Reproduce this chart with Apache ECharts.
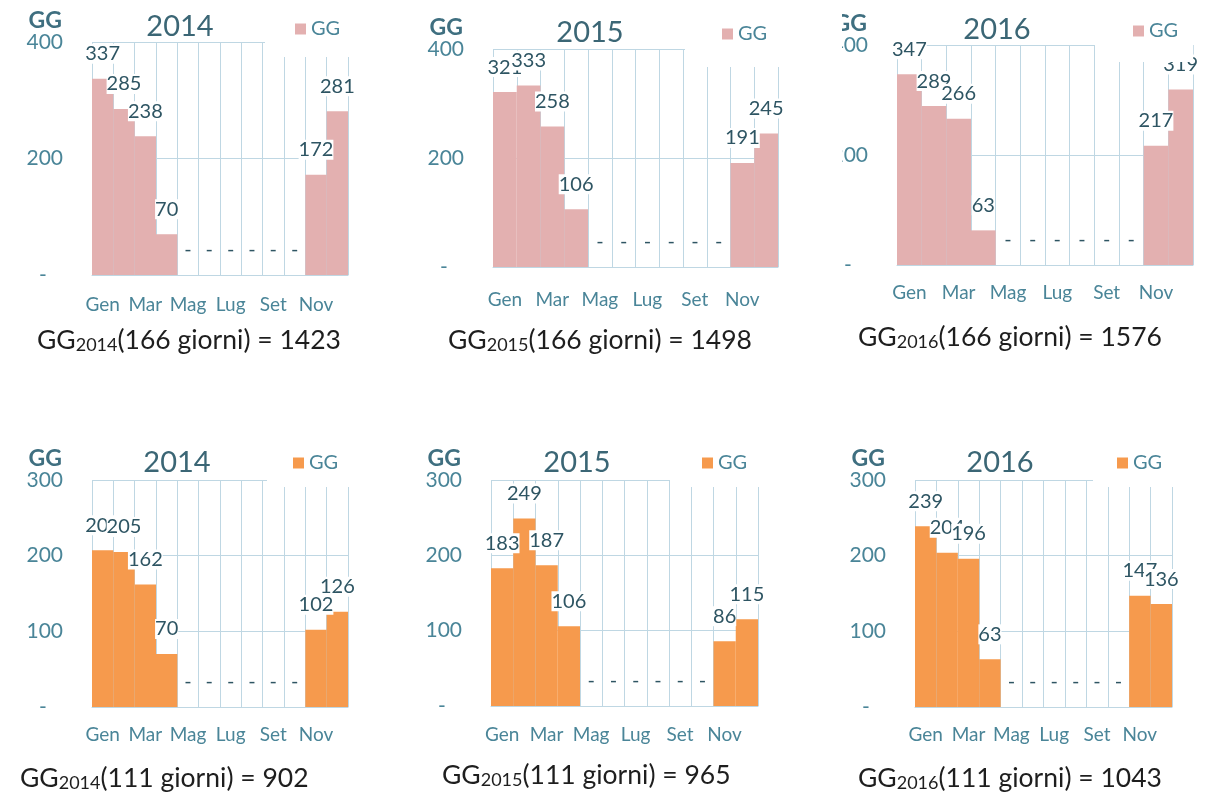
<!DOCTYPE html>
<html>
<head>
<meta charset="utf-8">
<script src="https://cdn.jsdelivr.net/npm/echarts@6/dist/echarts.min.js"></script>
<style>
  body { margin: 0; background: #fff; width: 1205px; height: 798px; position: relative; overflow: hidden; }
  .c { position: absolute; }
</style>
</head>
<body>
<div id="c1" class="c" style="left:0;top:0;width:400px;height:380px"></div>
<div id="c2" class="c" style="left:400px;top:0;width:400px;height:380px"></div>
<div class="c" style="left:842px;top:0;width:363px;height:380px;overflow:hidden">
  <div id="c3" class="c" style="left:-42px;top:0;width:405px;height:380px"></div>
</div>
<div id="c4" class="c" style="left:0;top:430px;width:400px;height:368px"></div>
<div id="c5" class="c" style="left:400px;top:430px;width:400px;height:368px"></div>
<div id="c6" class="c" style="left:800px;top:430px;width:405px;height:368px"></div>
<script>
// months (labels shown every other one)
const months = ['Gen', 'Feb', 'Mar', 'Apr', 'Mag', 'Giu', 'Lug', 'Ago', 'Set', 'Ott', 'Nov', 'Dic'];
const years = ['2014', '2015', '2016'];

// GG per month, 166-day season (top row)
const gg166_2014 = [337, 285, 238, 70, 0, 0, 0, 0, 0, 0, 172, 281];
const gg166_2015 = [321, 333, 258, 106, 0, 0, 0, 0, 0, 0, 191, 245];
const gg166_2016 = [347, 289, 266, 63, 0, 0, 0, 0, 0, 0, 217, 319];
const total166 = [1423, 1498, 1576];

// GG per month, 111-day season (bottom row)
const gg111_2014 = [207, 205, 162, 70, 0, 0, 0, 0, 0, 0, 102, 126];
const gg111_2015 = [183, 249, 187, 106, 0, 0, 0, 0, 0, 0, 86, 115];
const gg111_2016 = [239, 204, 196, 63, 0, 0, 0, 0, 0, 0, 147, 136];
const total111 = [902, 965, 1043];

const ticks166 = { max: 400, interval: 200 };
const ticks111 = { max: 300, interval: 100 };

const FONT = 'Lato';
const gridColor = '#bfd7e3';
const axisText = '#4a8598';
const labelText = '#2e5563';

// where each little chart sits inside its box
const layouts = [
  { left: 92, top: 42, width: 256, height: 233, titleX: 180, titleY: 27, legLeft: 265, legPad: 30, legY: 28, legBottom: 55, textX: 37, textY: 340, xMargin: 20 },
  { left: 93, top: 49, width: 285, height: 218, titleX: 190, titleY: 33, legLeft: 285, legPad: 37, legY: 33, legBottom: 65, textX: 48, textY: 340, xMargin: 23 },
  { left: 97, top: 45, width: 296, height: 220, titleX: 197, titleY: 30, legLeft: 295, legPad: 38, legY: 30, legBottom: 60, textX: 58, textY: 337, xMargin: 18 },
  { left: 92, top: 50, width: 256, height: 227, titleX: 177, titleY: 33, legLeft: 267, legPad: 26, legY: 32, legBottom: 55, textX: 20, textY: 348, xMargin: 18 },
  { left: 91, top: 50, width: 267, height: 226, titleX: 177, titleY: 33, legLeft: 270, legPad: 32, legY: 32, legBottom: 55, textX: 42, textY: 345, xMargin: 19 },
  { left: 115, top: 50, width: 257, height: 227, titleX: 200, titleY: 33, legLeft: 293, legPad: 24, legY: 32, legBottom: 55, textX: 58, textY: 348, xMargin: 18 }
];

function buildOption(lay, values, year, days, total, color, ticks) {
  return {
    animation: false,
    title: [
      {
        text: year,
        left: lay.titleX,
        top: lay.titleY - 15,
        textAlign: 'center',
        padding: 0,
        textStyle: { fontFamily: FONT, fontSize: 29, fontWeight: 'normal', color: '#3b6675' }
      },
      {
        text: '{a|GG}{s|' + year + '}{a|(' + days + ' giorni) = ' + total + '}',
        left: lay.textX,
        top: lay.textY - 14,
        padding: 0,
        textStyle: {
          rich: {
            a: { fontFamily: FONT, fontSize: 26.5, fontWeight: 'normal', color: '#1e1e1e', lineHeight: 28 },
            s: { fontFamily: FONT, fontSize: 18, fontWeight: 'normal', color: '#1e1e1e', lineHeight: 24, verticalAlign: 'bottom' }
          }
        }
      }
    ],
    legend: {
      data: ['GG'],
      left: lay.legLeft,
      top: lay.legY - 19,
      padding: [10, 15, lay.legBottom - lay.legY - 9, lay.legPad],
      backgroundColor: '#fff',
      icon: 'rect',
      itemWidth: 11,
      itemHeight: 11,
      itemGap: 5,
      textStyle: { fontFamily: FONT, fontSize: 20, color: axisText }
    },
    grid: { left: lay.left, top: lay.top, width: lay.width, height: lay.height },
    xAxis: {
      type: 'category',
      data: months,
      axisLine: { lineStyle: { color: gridColor } },
      axisTick: { show: false },
      axisLabel: { interval: 1, margin: lay.xMargin, fontFamily: FONT, fontSize: 19, color: axisText },
      splitLine: { show: true, interval: 0, lineStyle: { color: gridColor } }
    },
    yAxis: {
      type: 'value',
      min: 0,
      max: ticks.max,
      interval: ticks.interval,
      name: 'GG',
      nameLocation: 'end',
      nameGap: 10,
      nameTextStyle: { fontFamily: FONT, fontSize: 23, fontWeight: 'bold', color: '#3f6f80', align: 'right', padding: [0, 30, 0, 0] },
      axisLine: { show: false },
      axisTick: { show: false },
      axisLabel: {
        margin: 29,
        fontFamily: FONT,
        fontSize: 21,
        color: axisText,
        formatter: v => (v === 0 ? '-   ' : String(v))
      },
      splitLine: { lineStyle: { color: gridColor } }
    },
    series: [
      {
        name: 'GG',
        type: 'bar',
        data: values,
        barCategoryGap: '0%',
        itemStyle: { color: color },
        label: {
          show: true,
          position: 'top',
          distance: 15,
          formatter: p => (p.value === 0 ? '-' : String(p.value)),
          fontFamily: FONT,
          fontSize: 20,
          color: labelText,
          backgroundColor: '#fff',
          padding: 0
        }
      }
    ]
  };
}

const pink = '#e3b0b0';
const orange = '#f69a4d';

const charts = [
  ['c1', gg166_2014, 0, 166, total166[0], pink, ticks166],
  ['c2', gg166_2015, 1, 166, total166[1], pink, ticks166],
  ['c3', gg166_2016, 2, 166, total166[2], pink, ticks166],
  ['c4', gg111_2014, 0, 111, total111[0], orange, ticks111],
  ['c5', gg111_2015, 1, 111, total111[1], orange, ticks111],
  ['c6', gg111_2016, 2, 111, total111[2], orange, ticks111]
];

charts.forEach((c, i) => {
  const chart = echarts.init(document.getElementById(c[0]), null, { renderer: 'canvas' });
  chart.setOption(buildOption(layouts[i], c[1], years[c[2]], c[3], c[4], c[5], c[6]));
});
</script>
</body>
</html>
